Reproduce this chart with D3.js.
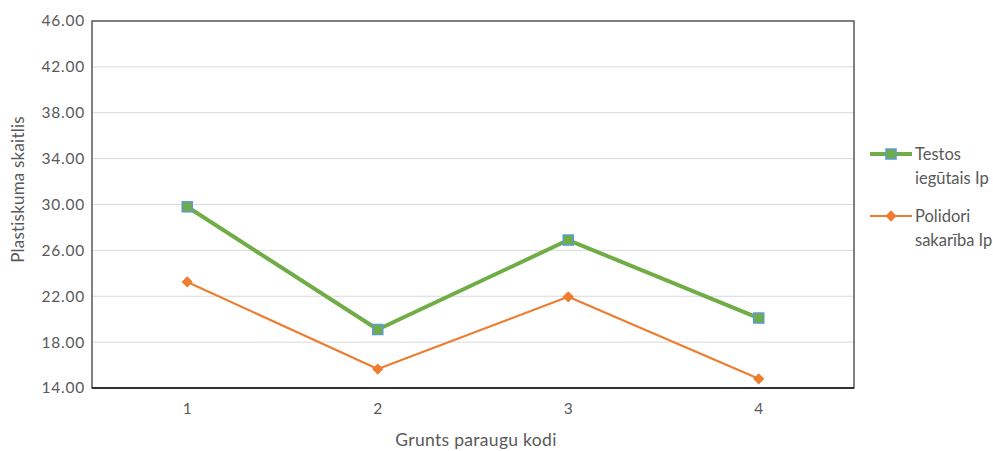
<!DOCTYPE html>
<html><head><meta charset="utf-8">
<script src="https://cdn.jsdelivr.net/npm/d3@7"></script>
<style>body{margin:0;background:#fff}svg{display:block}text{font-family:Lato,"Open Sans",sans-serif}</style>
</head><body>
<svg id="c" width="993" height="451"></svg>
<script>
const categories = ["1","2","3","4"];
const testosValues = [29.8, 19.1, 26.9, 20.1];
const polidoriValues = [23.25, 15.65, 21.95, 14.8];
const yTicks = [14,18,22,26,30,34,38,42,46];
const seriesNames = ["Testos iegūtais Ip","Polidori sakarība Ip"];

const svg = d3.select("#c");
const m = {l:92, r:854, t:21, b:388};
const x = d3.scaleBand().domain(categories).range([m.l, m.r]);
const y = d3.scaleLinear().domain([14,46]).range([m.b, m.t]);

// gridlines
svg.append("g").selectAll("line").data(yTicks).join("line")
  .attr("x1", m.l).attr("x2", m.r)
  .attr("y1", d=>y(d)).attr("y2", d=>y(d))
  .attr("stroke","#d9d9d9").attr("stroke-width",1);

// box
svg.append("rect").attr("x",m.l).attr("y",m.t).attr("width",m.r-m.l).attr("height",m.b-m.t)
  .attr("fill","none").attr("stroke","#595959").attr("stroke-width",1.5);
svg.append("line").attr("x1",m.l).attr("x2",m.r).attr("y1",m.b).attr("y2",m.b)
  .attr("stroke","#1a1a1a").attr("stroke-width",1.5);

// y axis labels
const ya = svg.append("g").attr("transform",`translate(${m.l},0)`)
  .call(d3.axisLeft(y).tickValues(yTicks).tickFormat(d3.format(".2f")).tickSize(0).tickPadding(7));
ya.select(".domain").remove();
ya.selectAll("text").attr("fill","#595959").style("font-size","15.5px").style("letter-spacing","0.8px").style("font-family","Lato,sans-serif");

// x axis labels
const xa = svg.append("g").attr("transform",`translate(0,${m.b})`)
  .call(d3.axisBottom(x).tickSize(0).tickPadding(15));
xa.select(".domain").remove();
xa.selectAll("text").attr("fill","#595959").style("font-size","15.5px").style("font-family","Lato,sans-serif");

// axis titles
svg.append("text").attr("x",(m.l+m.r)/2+3).attr("y",446).attr("text-anchor","middle")
  .attr("fill","#595959").style("font-size","17.5px").style("letter-spacing","0.3px").text("Grunts paraugu kodi");
svg.append("text").attr("transform",`translate(24,${(m.t+m.b)/2-15}) rotate(-90)`).attr("text-anchor","middle")
  .attr("fill","#595959").style("font-size","17px").style("letter-spacing","0.2px").text("Plastiskuma skaitlis");

const cx = d => x(d)+x.bandwidth()/2;
const line = d3.line().x(d=>cx(d.c)).y(d=>y(d.v));
const tData = categories.map((c,i)=>({c, v:testosValues[i]}));
const pData = categories.map((c,i)=>({c, v:polidoriValues[i]}));

svg.append("path").datum(tData).attr("d",line).attr("fill","none").attr("stroke","#70ad47").attr("stroke-width",4).attr("stroke-linejoin","round");
svg.append("path").datum(pData).attr("d",line).attr("fill","none").attr("stroke","#ed7d31").attr("stroke-width",2.2).attr("stroke-linejoin","round");

svg.append("g").selectAll("rect").data(tData).join("rect")
  .attr("x",d=>cx(d.c)-5).attr("y",d=>y(d.v)-5).attr("width",10).attr("height",10)
  .attr("fill","#70ad47").attr("stroke","#5b9bd5").attr("stroke-width",1.5);
svg.append("g").selectAll("path").data(pData).join("path")
  .attr("transform",d=>`translate(${cx(d.c)},${y(d.v)}) rotate(45)`)
  .attr("d", d3.symbol().type(d3.symbolSquare).size(64)())
  .attr("fill","#ed7d31");

// legend
const lg = svg.append("g");
const fs = "16.5px";
lg.append("line").attr("x1",870).attr("x2",912).attr("y1",154).attr("y2",154).attr("stroke","#70ad47").attr("stroke-width",4);
lg.append("rect").attr("x",886).attr("y",149).attr("width",10).attr("height",10).attr("fill","#70ad47").attr("stroke","#5b9bd5").attr("stroke-width",1.5);
lg.append("text").attr("x",915).attr("y",160).attr("fill","#595959").style("font-size",fs).text("Testos");
lg.append("text").attr("x",915).attr("y",184).attr("fill","#595959").style("font-size",fs).text("iegūtais Ip");
lg.append("line").attr("x1",870).attr("x2",912).attr("y1",216).attr("y2",216).attr("stroke","#ed7d31").attr("stroke-width",2.2);
lg.append("path").attr("transform","translate(891,216) rotate(45)").attr("d", d3.symbol().type(d3.symbolSquare).size(64)()).attr("fill","#ed7d31");
lg.append("text").attr("x",915).attr("y",222).attr("fill","#595959").style("font-size",fs).text("Polidori");
lg.append("text").attr("x",915).attr("y",246).attr("fill","#595959").style("font-size",fs).text("sakarība Ip");
</script>
</body></html>
